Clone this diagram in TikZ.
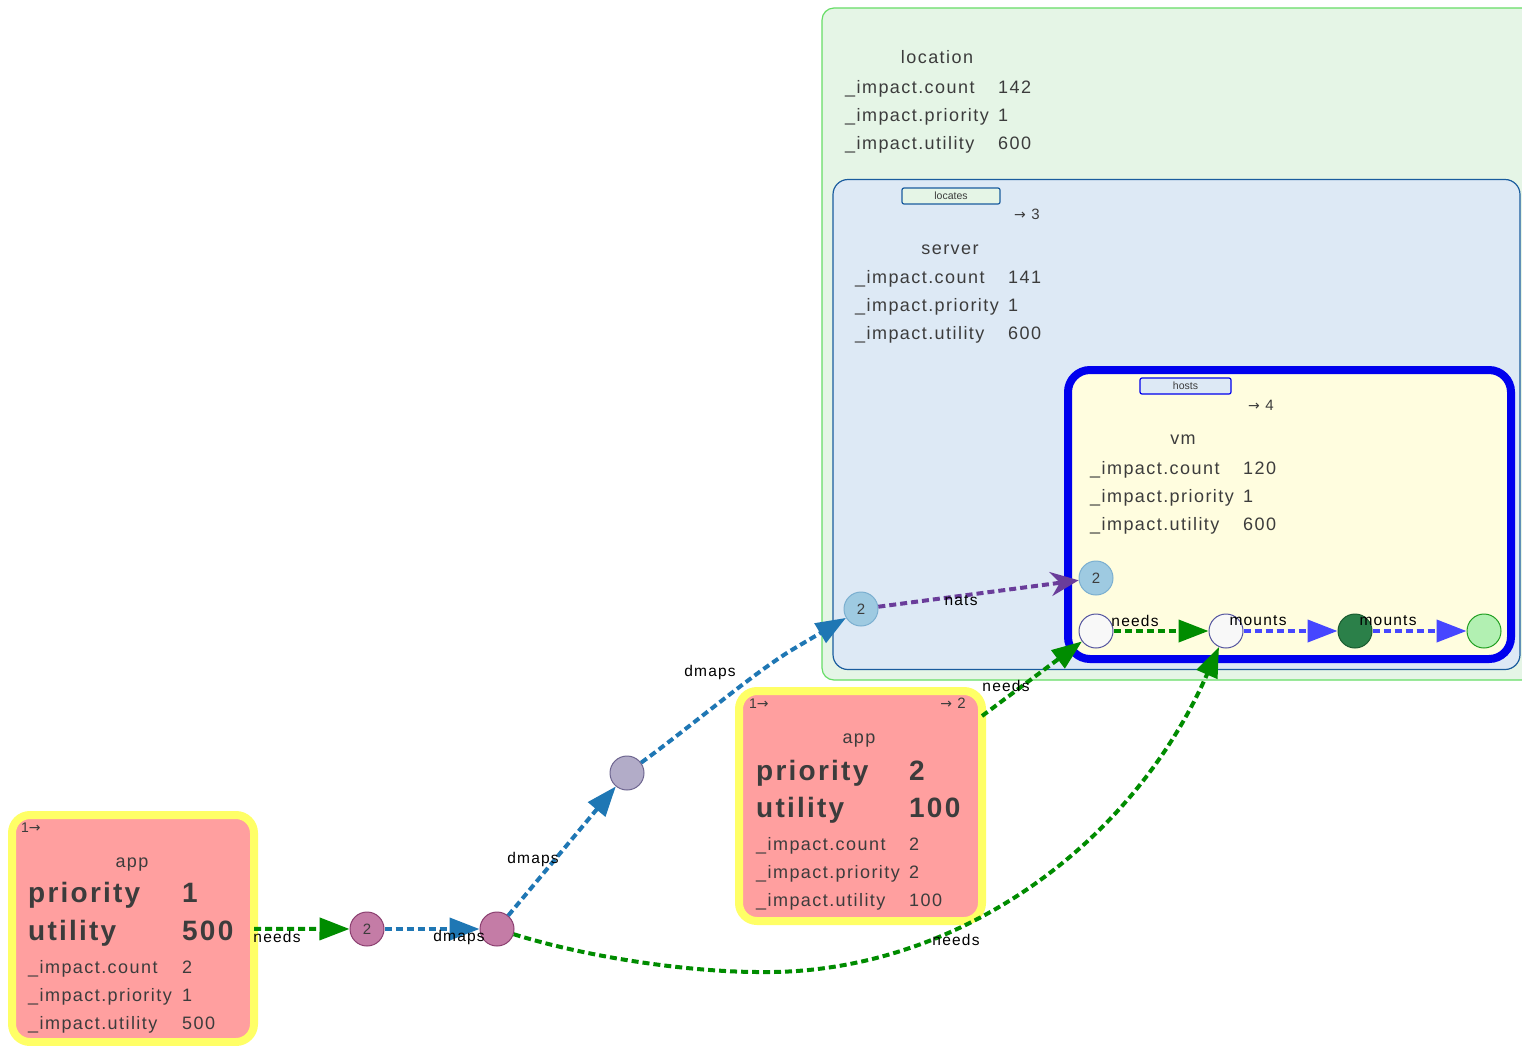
\documentclass[tikz,border=0pt]{standalone}
\usepackage{fontspec}
\setmainfont{Liberation Sans}
\newfontfamily\lsfont[LetterSpace=8]{Liberation Sans}
\newfontfamily\symf{DejaVu Sans}
\usetikzlibrary{arrows.meta}
\definecolor{tg}{HTML}{3C3C3C}
\definecolor{locfill}{HTML}{E5F5E6}
\definecolor{locline}{HTML}{66DD66}
\definecolor{srvfill}{HTML}{DDE9F5}
\definecolor{srvline}{HTML}{1A5C9E}
\definecolor{vmfill}{HTML}{FFFDDF}
\definecolor{vmline}{HTML}{0000EE}
\definecolor{appfill}{HTML}{FF9F9F}
\definecolor{appline}{HTML}{FFFF66}
\definecolor{gedge}{HTML}{008C00}
\definecolor{dedge}{HTML}{1F77B4}
\definecolor{medge}{HTML}{4646FF}
\definecolor{nedge}{HTML}{6A3D9A}
\definecolor{lbfill}{HTML}{9ECAE1}
\definecolor{lbline}{HTML}{7BAFD0}
\definecolor{pkfill}{HTML}{C47CA6}
\definecolor{pkline}{HTML}{8B3F70}
\definecolor{lvfill}{HTML}{B2ACC8}
\definecolor{lvline}{HTML}{6E6690}
\definecolor{whfill}{HTML}{F8F8F8}
\definecolor{whline}{HTML}{5555A0}
\definecolor{dgfill}{HTML}{2B8049}
\definecolor{dgline}{HTML}{1A5C30}
\definecolor{lgfill}{HTML}{B2F0B2}
\definecolor{lgline}{HTML}{22A022}
\newcommand\kvrow[6]{\node[rowt] (#1k) at (#2,#4) {#5}; \node[rowt] (#1v) at (#3,#4) {#6};}
\newcommand\kvbig[6]{\node[bigt] (#1k) at (#2,#4) {#5}; \node[bigt] (#1v) at (#3,#4) {#6};}
\newcommand\rarr{{\symf\fontsize{14}{15}\selectfont →}}
\begin{document}
\begin{tikzpicture}[x=1pt,y=-1pt,
  rowt/.style={anchor=base west, inner sep=0, text=tg, font=\lsfont\fontsize{18}{20}\selectfont},
  bigt/.style={anchor=base west, inner sep=0, text=tg, font=\lsfont\bfseries\fontsize{28}{30}\selectfont},
  ttl/.style={anchor=base, inner sep=0, text=tg, font=\lsfont\fontsize{18}{20}\selectfont},
  small/.style={inner sep=0, text=tg, font=\lsfont\fontsize{15}{16}\selectfont},
  elab/.style={inner sep=0, text=black, font=\lsfont\fontsize{15.5}{17}\selectfont},
  tagbox/.style={draw, rounded corners=2pt, line width=1.2pt, inner sep=0, text=tg, font=\fontsize{10.5}{11}\selectfont},
  cluster/.style={draw, inner sep=0, outer sep=0},
  appbox/.style={cluster, fill=appfill, draw=appline, line width=8pt, rounded corners=18pt},
  circ/.style={circle, draw, minimum size=34pt, inner sep=0, line width=1pt, text=tg, font=\lsfont\fontsize{15}{16}\selectfont},
  dashline/.style={line width=4pt, dash pattern=on 7pt off 4pt},
  tri/.style={-{Triangle[length=30pt,width=22pt]}},
  veeh/.style={-{Stealth[length=28pt,width=24pt,inset=9pt]}}
]
\useasboundingbox (0,0) rectangle (1522,1045);
\fill[white] (0,0) rectangle (1522,1045);

% clusters
\node[cluster, fill=locfill, draw=locline, line width=1.2pt, rounded corners=12pt,
  minimum width=720pt, minimum height=672pt] (loc) at (1182,344) {};
\node[cluster, fill=srvfill, draw=srvline, line width=1.2pt, rounded corners=15pt,
  minimum width=687pt, minimum height=490pt] (srv) at (1176.5,424.5) {};
\node[cluster, fill=vmfill, draw=vmline, line width=8pt, rounded corners=22pt,
  minimum width=443pt, minimum height=289pt] (vm) at (1289.5,514.5) {};

% location text
\node[ttl] (loct) at (937,63) {location};
\kvrow{loca}{845}{998}{93}{\_impact.count}{142}
\kvrow{locb}{845}{998}{121}{\_impact.priority}{1}
\kvrow{locc}{845}{998}{149}{\_impact.utility}{600}

% server text
\node[tagbox, fill=locfill, draw=srvline, minimum width=98pt, minimum height=16pt] (srvtag) at (951,196) {locates};
\node[small, anchor=base west] (srvar) at (1014,219) {\rarr\ 3};
\node[ttl] (srvt) at (950,254) {server};
\kvrow{srva}{855}{1008}{283}{\_impact.count}{141}
\kvrow{srvb}{855}{1008}{311}{\_impact.priority}{1}
\kvrow{srvc}{855}{1008}{339}{\_impact.utility}{600}

% vm text
\node[tagbox, fill=srvfill, draw=vmline, minimum width=91pt, minimum height=16pt] (vmtag) at (1185.5,386) {hosts};
\node[small, anchor=base west] (vmar) at (1248,410) {\rarr\ 4};
\node[ttl] (vmt) at (1183,444) {vm};
\kvrow{vma}{1090}{1243}{474}{\_impact.count}{120}
\kvrow{vmb}{1090}{1243}{502}{\_impact.priority}{1}
\kvrow{vmc}{1090}{1243}{530}{\_impact.utility}{600}

% app boxes
\node[appbox, minimum width=242pt, minimum height=227pt] (app1) at (133,928.5) {};
\node[appbox, minimum width=243pt, minimum height=230pt] (app2) at (860.5,806) {};

\node[small, anchor=base west, font=\lsfont\fontsize{14}{15}\selectfont] (a1n) at (21,832) {1\rarr};
\node[ttl] (a1t) at (132,867) {app};
\kvbig{a1p}{28}{182}{902}{priority}{1}
\kvbig{a1u}{28}{182}{940}{utility}{500}
\kvrow{a1a}{28}{182}{973}{\_impact.count}{2}
\kvrow{a1b}{28}{182}{1001}{\_impact.priority}{1}
\kvrow{a1c}{28}{182}{1029}{\_impact.utility}{500}

\node[small, anchor=base west, font=\lsfont\fontsize{14}{15}\selectfont] (a2n) at (749,708) {1\rarr};
\node[small, anchor=base east] (a2m) at (966,708) {\rarr\ 2};
\node[ttl] (a2t) at (859,743) {app};
\kvbig{a2p}{756}{909}{780}{priority}{2}
\kvbig{a2u}{756}{909}{817}{utility}{100}
\kvrow{a2a}{756}{909}{850}{\_impact.count}{2}
\kvrow{a2b}{756}{909}{878}{\_impact.priority}{2}
\kvrow{a2c}{756}{909}{906}{\_impact.utility}{100}

% small nodes
\node[circ, fill=pkfill, draw=pkline] (p1) at (367,929) {2};
\node[circ, fill=pkfill, draw=pkline] (p2) at (497,929) {};
\node[circ, fill=lvfill, draw=lvline] (g1) at (627,773) {};
\node[circ, fill=lbfill, draw=lbline] (s2) at (861,609) {2};
\node[circ, fill=lbfill, draw=lbline] (v2) at (1096,578) {2};
\node[circ, fill=whfill, draw=whline] (w1) at (1096,631) {};
\node[circ, fill=whfill, draw=whline] (w2) at (1226,631) {};
\node[circ, fill=dgfill, draw=dgline] (d1) at (1355,631) {};
\node[circ, fill=lgfill, draw=lgline] (l1) at (1484,631) {};

\coordinate (cv) at (760,972);
\coordinate (cm) at (790,651);

% edges
\draw[dashline, tri, draw=gedge] (app1) -- (p1);
\draw[dashline, tri, draw=dedge] (p1) -- (p2);
\draw[dashline, tri, draw=dedge] (p2) -- (g1);
\draw[dashline, tri, draw=dedge] (g1) .. controls (690,727) and (750,676) .. (cm) -- (s2);
\draw[dashline, veeh, draw=nedge] (s2) -- (v2);
\draw[dashline, tri, draw=gedge] (app2) -- (w1);
\draw[dashline, tri, draw=gedge] (p2) .. controls (590,958) and (690,972) .. (cv)
  .. controls (950,975) and (1130,850) .. (w2);
\draw[dashline, tri, draw=gedge] (w1) -- (w2);
\draw[dashline, tri, draw=medge] (w2) -- (d1);
\draw[dashline, tri, draw=medge] (d1) -- (l1);

% edge labels
\node[elab] (e1) at (277,937) {needs};
\node[elab] (e2) at (459,937) {dmaps};
\node[elab] (e3) at (533,859) {dmaps};
\node[elab] (e4) at (710,672) {dmaps};
\node[elab] (e5) at (961,601) {nats};
\node[elab] (e6) at (1006,686) {needs};
\node[elab] (e7) at (956,940) {needs};
\node[elab] (e8) at (1135,621) {needs};
\node[elab] (e9) at (1258,621) {mounts};
\node[elab] (e10) at (1388,621) {mounts};
\end{tikzpicture}
\end{document}
